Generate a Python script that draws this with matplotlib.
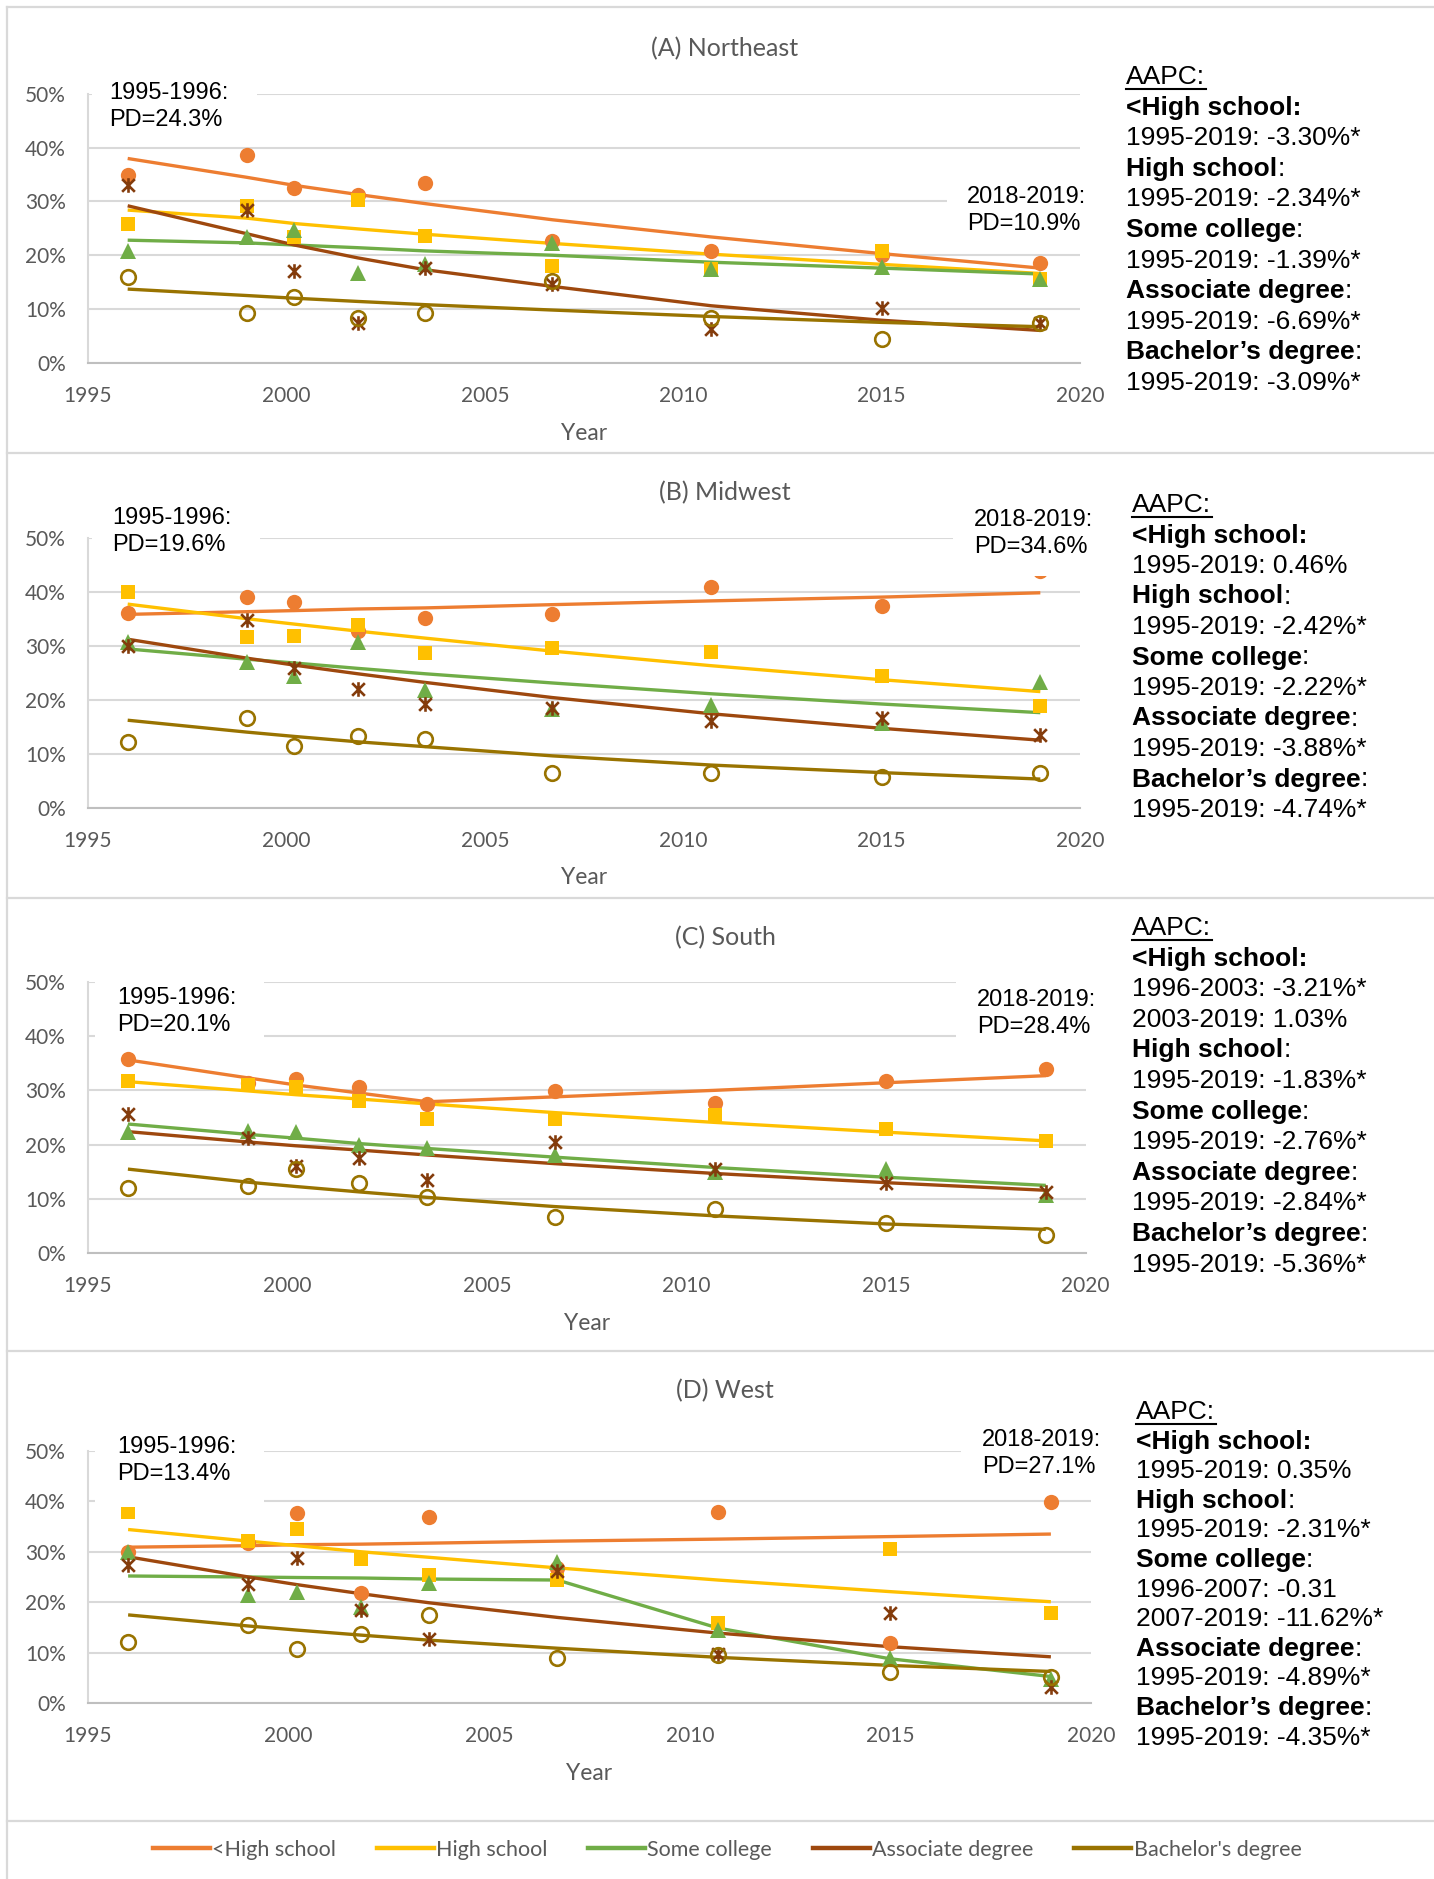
import matplotlib
matplotlib.use("Agg")
import matplotlib.pyplot as plt
from matplotlib.lines import Line2D
from matplotlib.patches import Rectangle
from matplotlib.path import Path

# survey waves (mid-points of each wave)
years = [1996, 1999, 2000.2, 2001.8, 2003.5, 2006.7, 2010.7, 2015, 2019]
levels = ["<High school", "High school", "Some college", "Associate degree", "Bachelor's degree"]

# observed prevalence (%), one row per education level
northeast_points = [
    [35.0, 38.6, 32.6, 31.2, 33.5, 22.7, 20.8, 20.1, 18.5],
    [25.8, 29.2, 23.3, 30.3, 23.6, 18.0, 17.4, 20.7, 15.6],
    [20.8, 23.3, 24.7, 16.7, 18.3, 22.2, 17.4, 17.9, 15.6],
    [33.0, 28.4, 17.1, 7.3, 17.7, 14.6, 6.2, 10.1, 7.4],
    [16.0, 9.2, 12.2, 8.4, 9.2, 15.2, 8.3, 4.4, 7.4],
]
northeast_trend = [
    [38.0, 34.5, 33.0, 31.3, 29.6, 26.6, 23.4, 20.3, 17.6],
    [28.4, 26.9, 25.9, 24.9, 23.9, 22.2, 20.2, 18.3, 16.6],
    [22.8, 22.3, 21.9, 21.4, 20.8, 20.0, 18.7, 17.6, 16.5],
    [29.2, 24.0, 21.9, 19.5, 17.3, 14.2, 10.6, 7.9, 6.0],
    [13.7, 12.5, 12.0, 11.4, 10.8, 9.8, 8.6, 7.5, 6.7],
]
midwest_points = [
    [36.0, 39.1, 38.0, 32.8, 35.1, 35.8, 40.8, 37.4, 43.8],
    [39.9, 31.7, 31.8, 33.9, 28.6, 29.6, 28.9, 24.4, 18.8],
    [30.7, 27.0, 24.3, 30.6, 21.8, 18.2, 19.0, 15.6, 23.3],
    [30.0, 34.8, 25.9, 22.0, 19.2, 18.5, 16.0, 16.7, 13.5],
    [12.2, 16.7, 11.5, 13.3, 12.8, 6.5, 6.5, 5.7, 6.5],
]
midwest_trend = [
    [35.8, 36.3, 36.5, 36.8, 37.0, 37.6, 38.3, 39.0, 39.8],
    [37.7, 35.0, 34.0, 32.7, 31.4, 29.0, 26.3, 23.7, 21.5],
    [29.4, 27.5, 26.8, 25.8, 24.8, 23.1, 21.1, 19.2, 17.6],
    [31.2, 27.7, 26.4, 24.8, 23.2, 20.4, 17.4, 14.7, 12.5],
    [16.2, 14.0, 13.2, 12.2, 11.3, 9.6, 7.9, 6.5, 5.3],
]
south_points = [
    [35.7, 31.3, 32.0, 30.6, 27.4, 29.8, 27.7, 31.8, 33.9],
    [31.7, 31.0, 30.6, 28.0, 24.8, 24.7, 25.5, 22.9, 20.6],
    [22.4, 22.5, 22.4, 19.9, 19.3, 18.1, 14.9, 15.5, 10.7],
    [25.6, 21.2, 16.1, 17.6, 13.5, 20.4, 15.6, 12.9, 11.3],
    [12.1, 12.3, 15.5, 13.0, 10.4, 6.6, 8.2, 5.5, 3.4],
]
south_trend = [
    [35.6, 32.3, 31.0, 29.5, 27.9, 28.8, 30.0, 31.4, 32.7],
    [31.6, 29.9, 29.2, 28.4, 27.5, 25.9, 24.1, 22.3, 20.7],
    [23.8, 21.9, 21.2, 20.2, 19.3, 17.7, 15.8, 14.0, 12.5],
    [22.4, 20.5, 19.8, 19.0, 18.1, 16.5, 14.7, 13.0, 11.6],
    [15.5, 13.1, 12.3, 11.3, 10.3, 8.6, 6.9, 5.4, 4.4],
]
west_points = [
    [30.0, 31.7, 37.7, 21.8, 36.8, 26.7, 37.8, 12.0, 39.8],
    [37.8, 32.1, 34.5, 28.5, 25.4, 24.4, 15.8, 30.5, 17.9],
    [30.0, 21.4, 22.1, 19.1, 23.9, 27.9, 14.6, 8.9, 4.9],
    [27.4, 23.6, 28.8, 18.5, 12.7, 26.1, 9.7, 17.8, 3.3],
    [12.2, 15.5, 10.8, 13.7, 17.5, 9.0, 9.5, 6.1, 5.3],
]
west_trend = [
    [30.9, 31.2, 31.4, 31.5, 31.7, 32.1, 32.5, 33.0, 33.5],
    [34.4, 32.1, 31.2, 30.0, 28.9, 26.8, 24.4, 22.1, 20.1],
    [25.2, 25.0, 24.9, 24.8, 24.6, 24.4, 14.9, 8.8, 5.3],
    [29.0, 25.0, 23.5, 21.7, 19.9, 17.0, 13.9, 11.2, 9.2],
    [17.5, 15.3, 14.5, 13.5, 12.5, 10.9, 9.1, 7.5, 6.3],
]

regions = ["(A) Northeast", "(B) Midwest", "(C) South", "(D) West"]
pd_first = ["24.3%", "19.6%", "20.1%", "13.4%"]
pd_last = ["10.9%", "34.6%", "28.4%", "27.1%"]

northeast_aapc = [
    ("<High school", ["1995-2019: -3.30%*"]),
    ("High school", ["1995-2019: -2.34%*"]),
    ("Some college", ["1995-2019: -1.39%*"]),
    ("Associate degree", ["1995-2019: -6.69%*"]),
    ("Bachelor’s degree", ["1995-2019: -3.09%*"]),
]
midwest_aapc = [
    ("<High school", ["1995-2019: 0.46%"]),
    ("High school", ["1995-2019: -2.42%*"]),
    ("Some college", ["1995-2019: -2.22%*"]),
    ("Associate degree", ["1995-2019: -3.88%*"]),
    ("Bachelor’s degree", ["1995-2019: -4.74%*"]),
]
south_aapc = [
    ("<High school", ["1996-2003: -3.21%*", "2003-2019: 1.03%"]),
    ("High school", ["1995-2019: -1.83%*"]),
    ("Some college", ["1995-2019: -2.76%*"]),
    ("Associate degree", ["1995-2019: -2.84%*"]),
    ("Bachelor’s degree", ["1995-2019: -5.36%*"]),
]
west_aapc = [
    ("<High school", ["1995-2019: 0.35%"]),
    ("High school", ["1995-2019: -2.31%*"]),
    ("Some college", ["1996-2007: -0.31", "2007-2019: -11.62%*"]),
    ("Associate degree", ["1995-2019: -4.89%*"]),
    ("Bachelor’s degree", ["1995-2019: -4.35%*"]),
]

W, H = 1434, 1879
fig = plt.figure(figsize=(W / 100, H / 100), dpi=100)
renderer = fig.canvas.get_renderer()


def fx(x):
    return x / W


def fy(y):
    return 1 - y / H


TXT = "#595959"
GRID = "#D9D9D9"
colors = ["#ED7D31", "#FFC000", "#70AD47", "#9E480E", "#997300"]

star = Path([(-1, -1), (1, 1), (-1, 1), (1, -1), (0, -1.15), (0, 1.15)],
            [Path.MOVETO, Path.LINETO] * 3)
marker_styles = [
    dict(marker="o", ms=11, mfc=colors[0], mec=colors[0], mew=0),
    dict(marker="s", ms=10.5, mfc=colors[1], mec=colors[1], mew=0),
    dict(marker="^", ms=11.5, mfc=colors[2], mec=colors[2], mew=0),
    dict(marker=star, ms=10.5, mfc="none", mec="#843C0C", mew=1.9),
    dict(marker="o", ms=10.5, mfc="none", mec=colors[4], mew=1.9),
]

# per-panel layout in pixels: axes (left, right, top, bottom), title y,
# left/right PD boxes, AAPC block (x, first y, step)
layout = [
    dict(ax=(88, 1080, 94, 362.7), title=48.5, year=434,
         lbox=(92, 257, 80, 140), ltxt=(109, 93),
         rbox=(947, 1095, 178, 240), rtxt=(967, 197),
         aapc=(1126, 77, 30.6)),
    dict(ax=(88, 1080, 537.7, 807.7), title=493, year=878,
         lbox=(92, 260, 500, 562), ltxt=(112, 518),
         rbox=(953, 1100, 498, 576), rtxt=(974, 520),
         aapc=(1132, 505, 30.5)),
    dict(ax=(88, 1085.7, 981.7, 1253.3), title=938, year=1324,
         lbox=(95, 264, 972, 1044), ltxt=(117, 998),
         rbox=(956, 1100, 972, 1044), rtxt=(977, 1000),
         aapc=(1132, 928, 30.6)),
    dict(ax=(88, 1091, 1450.7, 1703.3), title=1391, year=1773,
         lbox=(95, 264, 1420, 1507), ltxt=(117, 1447),
         rbox=(961, 1100, 1412, 1492), rtxt=(982, 1440),
         aapc=(1136, 1412, 29.6)),
]
all_points = [northeast_points, midwest_points, south_points, west_points]
all_trend = [northeast_trend, midwest_trend, south_trend, west_trend]
all_aapc = [northeast_aapc, midwest_aapc, south_aapc, west_aapc]

ARIAL = "Liberation Sans"
CAL = "Lato"

for k in range(4):
    lay = layout[k]
    l, r, t, b = lay["ax"]
    ax = fig.add_axes([fx(l), fy(b), (r - l) / W, (b - t) / H])
    ax.set_xlim(1995, 2020)
    ax.set_ylim(0, 50)
    ax.set_xticks(range(1995, 2021, 5))
    ax.set_yticks(range(0, 51, 10))
    ax.set_yticklabels([f"{v}%" for v in range(0, 51, 10)])
    ax.tick_params(length=0, labelsize=15, labelcolor=TXT)
    ax.tick_params(axis="x", pad=16.5)
    ax.tick_params(axis="y", pad=16)
    for lab in ax.get_xticklabels() + ax.get_yticklabels():
        lab.set_family(CAL)
    ax.grid(axis="y", color=GRID, lw=1.5)
    ax.set_axisbelow(True)
    for s in ("top", "right"):
        ax.spines[s].set_visible(False)
    ax.spines["left"].set_color(GRID)
    ax.spines["left"].set_linewidth(1.5)
    ax.spines["bottom"].set_color("#BFBFBF")
    ax.spines["bottom"].set_linewidth(1.5)

    # fitted joinpoint lines first, observed points on top
    for j in range(5):
        ax.plot(years, all_trend[k][j], color=colors[j], lw=2.4,
                solid_capstyle="butt", zorder=2)
    for j in range(5):
        ax.plot(years, all_points[k][j], ls="none", zorder=3, clip_on=False,
                **marker_styles[j])

    fig.text(fx(725), fy(lay["title"]), regions[k], family=CAL, size=18,
             color=TXT, ha="center", va="center")
    fig.text(fx((l + r) / 2), fy(lay["year"]), "Year", family=CAL, size=16.5,
             color=TXT, ha="center", va="center")

    # white text boxes with period prevalence differences
    for (x0, x1, y0, y1), (tx, ty), head, val in [
        (lay["lbox"], lay["ltxt"], "1995-1996:", pd_first[k]),
        (lay["rbox"], lay["rtxt"], "2018-2019:", pd_last[k]),
    ]:
        fig.add_artist(Rectangle((fx(x0), fy(y1)), (x1 - x0) / W, (y1 - y0) / H,
                                 transform=fig.transFigure, facecolor="white",
                                 edgecolor="none", zorder=2))
        fig.text(fx(tx), fy(ty), head, family=ARIAL, size=17, color="black",
                 ha="left", va="center", zorder=3)
        fig.text(fx(tx), fy(ty + 27), "PD=" + val, family=ARIAL, size=17,
                 color="black", ha="left", va="center", zorder=3)

    # AAPC summary on the right
    ax0, ay0, step = lay["aapc"]
    fig.text(fx(ax0), fy(ay0), "AAPC:", family=ARIAL, size=19,
             color="black", ha="left", va="center")
    fig.add_artist(Line2D([fx(ax0), fx(ax0 + 80)], [fy(ay0 + 12), fy(ay0 + 12)],
                          transform=fig.transFigure, color="black", lw=1.5))
    row = 1
    for name, periods in all_aapc[k]:
        y = fy(ay0 + row * step)
        if name.startswith("<"):
            fig.text(fx(ax0), y, name + ":", family=ARIAL, size=19,
                     weight="bold", ha="left", va="center")
        else:
            head = fig.text(fx(ax0), y, name, family=ARIAL, size=19,
                            weight="bold", ha="left", va="center")
            x_end = head.get_window_extent(renderer).x1
            fig.text(x_end / W, y, ":", family=ARIAL, size=19,
                     ha="left", va="center")
        row += 1
        for p in periods:
            fig.text(fx(ax0), fy(ay0 + row * step), p, family=ARIAL, size=19,
                     ha="left", va="center")
            row += 1

# panel separators and left frame
for y in (7, 452.7, 898, 1351, 1821):
    fig.add_artist(Line2D([fx(7), 1], [fy(y), fy(y)], transform=fig.transFigure,
                          color=GRID, lw=1.6))
fig.add_artist(Line2D([fx(7), fx(7)], [fy(7), 0], transform=fig.transFigure,
                      color=GRID, lw=1.6))

handles = [Line2D([], [], color=c, lw=3.2) for c in colors]
fig.legend(handles, levels, loc="center", bbox_to_anchor=(fx(727), fy(1850)),
           ncol=5, frameon=False, handlelength=2.65, handletextpad=0.1,
           columnspacing=1.9, prop=dict(family=CAL, size=15.5),
           labelcolor=TXT)

fig.savefig("out.png", dpi=100, facecolor="white")
